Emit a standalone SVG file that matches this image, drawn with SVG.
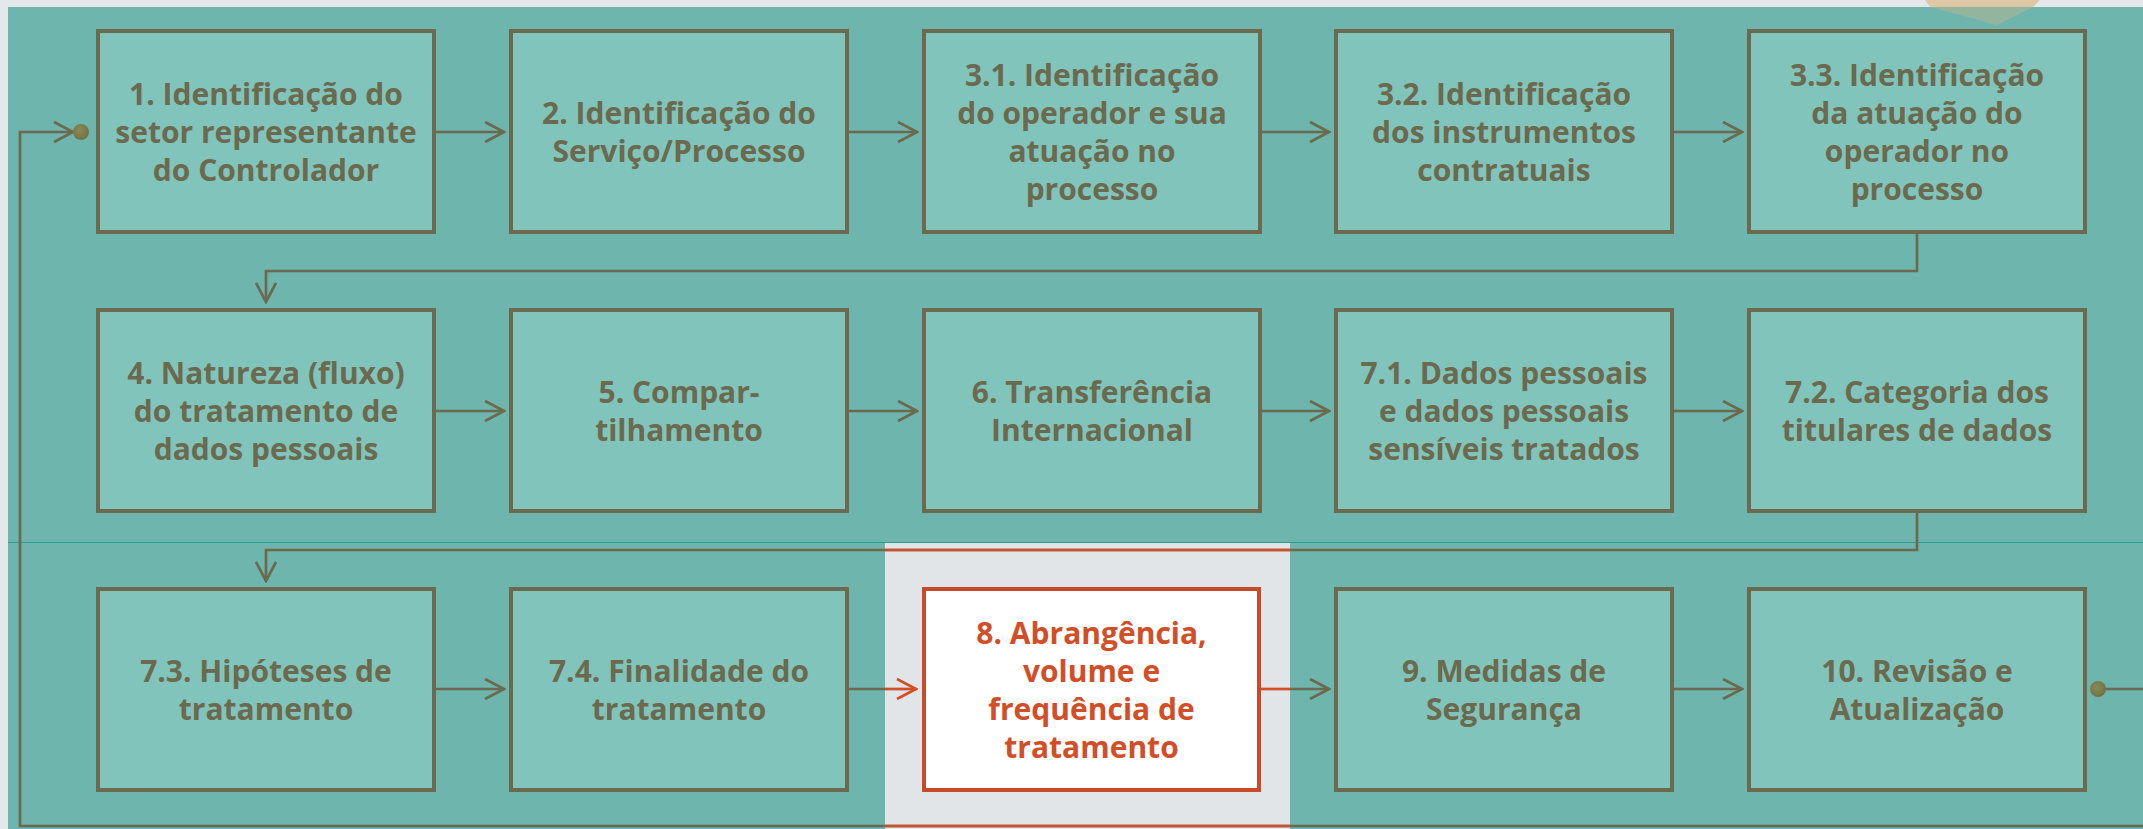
<svg xmlns="http://www.w3.org/2000/svg" width="2143" height="829" viewBox="0 0 2143 829">
<style>
.box{fill:#80c4bb;stroke:#6b6a4f;stroke-width:4}
.lbl{font-family:"Open Sans","Noto Sans","DejaVu Sans",sans-serif;font-weight:700;font-size:30px;fill:#6b6a4f;text-anchor:middle}
.hbox{fill:#ffffff;stroke:#c94a2a;stroke-width:4}
.hlbl{font-family:"Open Sans","Noto Sans","DejaVu Sans",sans-serif;font-weight:700;font-size:30px;fill:#d24e27;text-anchor:middle}
.con{fill:none;stroke:#6b6a4f;stroke-width:2.7}
.conr{fill:none;stroke:#d24e27;stroke-width:2.7}
</style>
<defs>
<marker id="arr" markerUnits="userSpaceOnUse" viewBox="0 0 22 22" refX="20" refY="11" markerWidth="22" markerHeight="22" orient="auto">
<path d="M1,1 L20,11 L1,21" fill="none" stroke="#6b6a4f" stroke-width="2.7"/>
</marker>
<marker id="arrr" markerUnits="userSpaceOnUse" viewBox="0 0 22 22" refX="20" refY="11" markerWidth="22" markerHeight="22" orient="auto">
<path d="M1,1 L20,11 L1,21" fill="none" stroke="#d24e27" stroke-width="2.7"/>
</marker>
<radialGradient id="dot" cx="0.4" cy="0.4" r="0.7">
<stop offset="0" stop-color="#8a8a56"/>
<stop offset="1" stop-color="#6e6e42"/>
</radialGradient>
</defs>
<rect x="0" y="0" width="2143" height="829" fill="#e4e8eb"/>
<polygon points="1925,0 2040,0 2033,7 1930,7" fill="#dcc8a4"/>
<rect x="8" y="7" width="2135" height="822" fill="#6eb5ae"/>
<polygon points="1930,7 2033,7 1997,25" fill="#93b59e"/>
<line x1="8" y1="542.5" x2="2143" y2="542.5" stroke="#2a9d8f" stroke-width="1.2"/>
<rect id="highlight" x="885" y="543" width="405" height="286" fill="#e1e5e8"/>
<g id="connectors">
<path class="con" d="M436,132 H504" marker-end="url(#arr)"/>
<path class="con" d="M849,132 H917" marker-end="url(#arr)"/>
<path class="con" d="M1262,132 H1329" marker-end="url(#arr)"/>
<path class="con" d="M1674,132 H1742" marker-end="url(#arr)"/>
<path class="con" d="M1917,234 V271 H266 V302" marker-end="url(#arr)"/>
<path class="con" d="M436,411 H504" marker-end="url(#arr)"/>
<path class="con" d="M849,411 H917" marker-end="url(#arr)"/>
<path class="con" d="M1262,411 H1329" marker-end="url(#arr)"/>
<path class="con" d="M1674,411 H1742" marker-end="url(#arr)"/>
<path class="con" d="M1917,513 V550 H266 V581" marker-end="url(#arr)"/>
<path class="con" d="M436,689 H504" marker-end="url(#arr)"/>
<path class="con" d="M849,689 H885"/>
<path class="conr" d="M885,689 H916" marker-end="url(#arrr)"/>
<path class="conr" d="M1261,689 H1290"/>
<path class="con" d="M1290,689 H1329" marker-end="url(#arr)"/>
<path class="con" d="M1674,689 H1742" marker-end="url(#arr)"/>
<path class="con" d="M2143,689 H2104"/>
<path class="con" d="M2143,826 H20 V132 H73" marker-end="url(#arr)"/>
<path class="conr" d="M885,550 H1290"/>
<path class="conr" d="M885,826 H1290"/>
<circle cx="81" cy="132" r="8" fill="url(#dot)"/>
<circle cx="2098" cy="689" r="8" fill="url(#dot)"/>
</g>
<g id="n1"><rect class="box" x="98" y="31" width="336" height="201"/>
<text class="lbl"><tspan x="266" y="104.5">1. Identificação do</tspan><tspan x="266" y="142.5">setor representante</tspan><tspan x="266" y="180.5">do Controlador</tspan></text></g>
<g id="n2"><rect class="box" x="511" y="31" width="336" height="201"/>
<text class="lbl"><tspan x="679" y="123.5">2. Identificação do</tspan><tspan x="679" y="161.5">Serviço/Processo</tspan></text></g>
<g id="n31"><rect class="box" x="924" y="31" width="336" height="201"/>
<text class="lbl"><tspan x="1092" y="85.5">3.1. Identificação</tspan><tspan x="1092" y="123.5">do operador e sua</tspan><tspan x="1092" y="161.5">atuação no</tspan><tspan x="1092" y="199.5">processo</tspan></text></g>
<g id="n32"><rect class="box" x="1336" y="31" width="336" height="201"/>
<text class="lbl"><tspan x="1504" y="104.5">3.2. Identificação</tspan><tspan x="1504" y="142.5">dos instrumentos</tspan><tspan x="1504" y="180.5">contratuais</tspan></text></g>
<g id="n33"><rect class="box" x="1749" y="31" width="336" height="201"/>
<text class="lbl"><tspan x="1917" y="85.5">3.3. Identificação</tspan><tspan x="1917" y="123.5">da atuação do</tspan><tspan x="1917" y="161.5">operador no</tspan><tspan x="1917" y="199.5">processo</tspan></text></g>
<g id="n4"><rect class="box" x="98" y="310" width="336" height="201"/>
<text class="lbl"><tspan x="266" y="383.5">4. Natureza (fluxo)</tspan><tspan x="266" y="421.5">do tratamento de</tspan><tspan x="266" y="459.5">dados pessoais</tspan></text></g>
<g id="n5"><rect class="box" x="511" y="310" width="336" height="201"/>
<text class="lbl"><tspan x="679" y="402.5">5. Compar-</tspan><tspan x="679" y="440.5">tilhamento</tspan></text></g>
<g id="n6"><rect class="box" x="924" y="310" width="336" height="201"/>
<text class="lbl"><tspan x="1092" y="402.5">6. Transferência</tspan><tspan x="1092" y="440.5">Internacional</tspan></text></g>
<g id="n71"><rect class="box" x="1336" y="310" width="336" height="201"/>
<text class="lbl"><tspan x="1504" y="383.5">7.1. Dados pessoais</tspan><tspan x="1504" y="421.5">e dados pessoais</tspan><tspan x="1504" y="459.5">sensíveis tratados</tspan></text></g>
<g id="n72"><rect class="box" x="1749" y="310" width="336" height="201"/>
<text class="lbl"><tspan x="1917" y="402.5">7.2. Categoria dos</tspan><tspan x="1917" y="440.5">titulares de dados</tspan></text></g>
<g id="n73"><rect class="box" x="98" y="589" width="336" height="201"/>
<text class="lbl"><tspan x="266" y="681.5">7.3. Hipóteses de</tspan><tspan x="266" y="719.5">tratamento</tspan></text></g>
<g id="n74"><rect class="box" x="511" y="589" width="336" height="201"/>
<text class="lbl"><tspan x="679" y="681.5">7.4. Finalidade do</tspan><tspan x="679" y="719.5">tratamento</tspan></text></g>
<g id="n8"><rect class="hbox" x="924" y="589" width="335" height="201"/>
<text class="hlbl"><tspan x="1091.5" y="643.5">8. Abrangência,</tspan><tspan x="1091.5" y="681.5">volume e</tspan><tspan x="1091.5" y="719.5">frequência de</tspan><tspan x="1091.5" y="757.5">tratamento</tspan></text></g>
<g id="n9"><rect class="box" x="1336" y="589" width="336" height="201"/>
<text class="lbl"><tspan x="1504" y="681.5">9. Medidas de</tspan><tspan x="1504" y="719.5">Segurança</tspan></text></g>
<g id="n10"><rect class="box" x="1749" y="589" width="336" height="201"/>
<text class="lbl"><tspan x="1917" y="681.5">10. Revisão e</tspan><tspan x="1917" y="719.5">Atualização</tspan></text></g>
</svg>
